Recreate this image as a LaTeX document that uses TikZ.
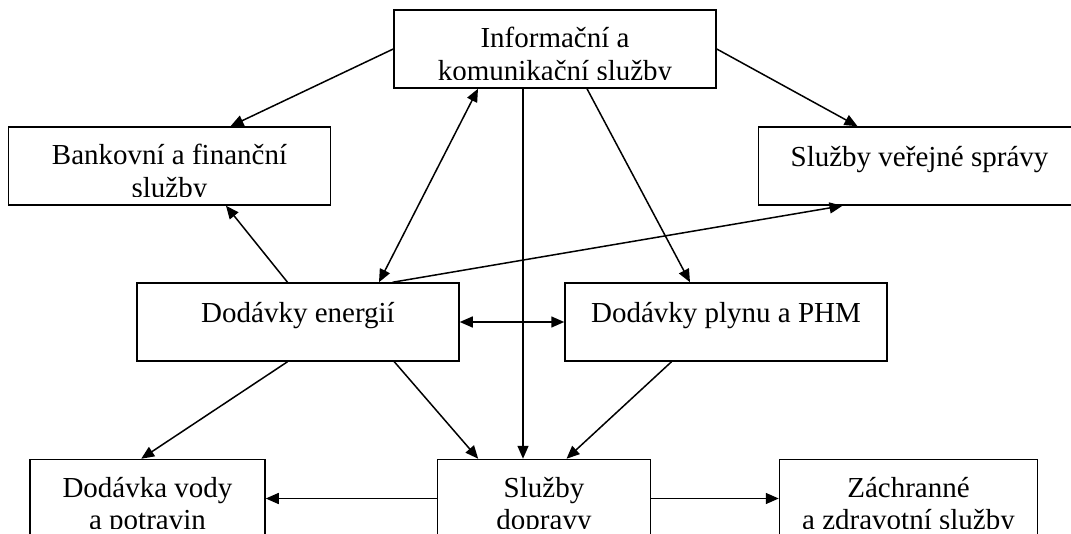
\documentclass[tikz,border=0pt]{standalone}
\usepackage{fontspec}
\setmainfont{Liberation Serif}
\usetikzlibrary{arrows.meta}

\tikzset{
  box/.style={draw, line width=1.5pt, minimum width=322pt, minimum height=78pt, inner sep=0pt},
  txt/.style={anchor=north, align=center, inner sep=0pt, execute at begin node=\strut,
    font={\fontsize{29pt}{32.2pt}\selectfont}},
  link/.style={line width=1.5pt, -{Triangle[length=13pt,width=11pt]}},
  both/.style={line width=1.5pt, {Triangle[length=13pt,width=11pt]}-{Triangle[length=13pt,width=11pt]}}
}
\newcommand{\boxlabel}[2]{%
  \begin{scope}
    \clip (#1.north west) rectangle ([yshift=9.5pt]#1.south east);
    \node[txt] (#1-txt) at ([yshift=-18pt]#1.north) {#2};
  \end{scope}}

\begin{document}
\begin{tikzpicture}[x=1pt,y=-1pt]
\useasboundingbox (0,0) rectangle (1071,534);

\node[box] (info) at (555,49) {};%les boites
\node[box] (bank) at (169.5,166) {};
\node[box] (verej) at (919.5,166) {};
\node[box] (energ) at (298,322) {};
\node[box] (plyn) at (726,322) {};
\node[box, minimum width=235pt] (voda) at (147.5,498.5) {};
\node[box, minimum width=213pt] (doprava) at (544,498.5) {};
\node[box, minimum width=258pt] (zachr) at (908.5,498.5) {};

\boxlabel{info}{Informační a\\komunikační služby}
\boxlabel{bank}{Bankovní a finanční\\služby}
\boxlabel{verej}{Služby veřejné správy}
\boxlabel{energ}{Dodávky energií}
\boxlabel{plyn}{Dodávky plynu a PHM}
\boxlabel{voda}{Dodávka vody\\a potravin}
\boxlabel{doprava}{Služby\\dopravy}
\boxlabel{zachr}{Záchranné\\a zdravotní služby}

\draw[link] (info.west) -- ([xshift=61pt]bank.north);%les fleches
\draw[link] (info.east) -- ([xshift=-62pt]verej.north);
\draw[both] ([xshift=81pt]energ.north) -- ([xshift=-77pt]info.south);
\draw[link] ([xshift=-10.5pt]energ.north) -- ([xshift=56.5pt]bank.south);
\draw[link] ([xshift=94.6pt]energ.north) -- ([xshift=-77pt]verej.south);
\draw[link] ([xshift=32pt]info.south) -- ([xshift=-36pt]plyn.north);
\draw[link] ([xshift=-32pt]info.south) -- ([xshift=-32pt]info.south |- doprava.north);
\draw[both] (energ.east) -- (plyn.west);
\draw[link] ([xshift=-10.5pt]energ.south) -- ([xshift=-6.3pt]voda.north);
\draw[link] ([xshift=96.3pt]energ.south) -- ([xshift=-65.8pt]doprava.north);
\draw[link] ([xshift=-54.5pt]plyn.south) -- ([xshift=22.5pt]doprava.north);
\draw[link] (doprava.west) -- (voda.east);
\draw[link] (doprava.east) -- (zachr.west);
\end{tikzpicture}
\end{document}
